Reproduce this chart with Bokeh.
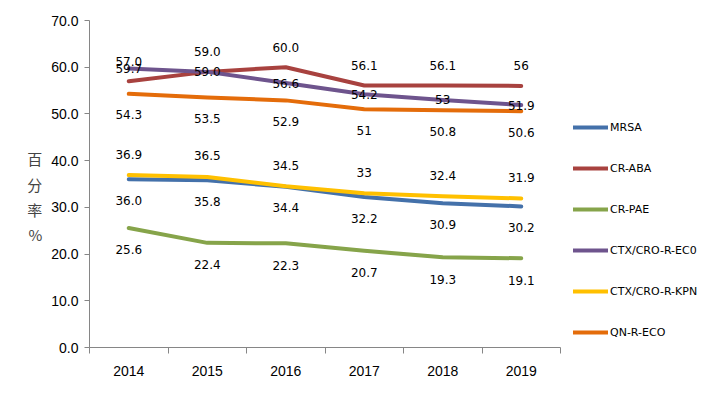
from bokeh.plotting import figure
from bokeh.models import (ColumnDataSource, Range1d, FixedTicker, Legend, LegendItem)
from bokeh.embed import file_html
from bokeh.resources import INLINE
from bokeh.core.properties import value

years = ["2014", "2015", "2016", "2017", "2018", "2019"]
series_names = ["MRSA", "CR-ABA", "CR-PAE", "CTX/CRO-R-EC0", "CTX/CRO-R-KPN", "QN-R-ECO"]
mrsa = [36.0, 35.8, 34.4, 32.2, 30.9, 30.2]
cr_aba = [57.0, 59.0, 60.0, 56.1, 56.1, 56.0]
cr_pae = [25.6, 22.4, 22.3, 20.7, 19.3, 19.1]
ctx_ec0 = [59.7, 59.0, 56.6, 54.2, 53.0, 51.9]
ctx_kpn = [36.9, 36.5, 34.5, 33.0, 32.4, 31.9]
qn_eco = [54.3, 53.5, 52.9, 51.0, 50.8, 50.6]
label_texts = {
    "MRSA": ["36.0", "35.8", "34.4", "32.2", "30.9", "30.2"],
    "CR-ABA": ["57.0", "59.0", "60.0", "56.1", "56.1", "56"],
    "CR-PAE": ["25.6", "22.4", "22.3", "20.7", "19.3", "19.1"],
    "CTX/CRO-R-EC0": ["59.7", "59.0", "56.6", "54.2", "53", "51.9"],
    "CTX/CRO-R-KPN": ["36.9", "36.5", "34.5", "33", "32.4", "31.9"],
    "QN-R-ECO": ["54.3", "53.5", "52.9", "51", "50.8", "50.6"],
}
y_ticks = [0, 10, 20, 30, 40, 50, 60, 70]

all_values = [mrsa, cr_aba, cr_pae, ctx_ec0, ctx_kpn, qn_eco]
colors = ["#4471AA", "#A8423F", "#86A44A", "#6E548D", "#FFC000", "#E46C0A"]
label_offsets = [-21, 20, -22, 0, 21, -21]  # pixels (positive = above)

xs = [i + 0.5 for i in range(len(years))]

p = figure(frame_width=471, frame_height=327, output_backend="svg", toolbar_location=None,
           x_range=Range1d(0, len(years)), y_range=Range1d(0, 70))
p.min_border_left = 89
p.min_border_right = 150
p.min_border_top = 20
p.min_border_bottom = 47
p.outline_line_color = None
p.background_fill_color = "white"
p.border_fill_color = "white"
p.xgrid.visible = False
p.ygrid.visible = False

# axes
p.xaxis.ticker = FixedTicker(ticks=xs, minor_ticks=list(range(len(years) + 1)))
p.xaxis.major_label_overrides = {x: y for x, y in zip(xs, years)}
p.xaxis.major_tick_out = 0
p.xaxis.major_tick_in = 0
p.xaxis.minor_tick_out = 6
p.xaxis.minor_tick_in = 0
p.xaxis.minor_tick_line_color = "#868686"
p.xaxis.axis_line_color = "#868686"
p.xaxis.major_label_text_font = "Liberation Sans"
p.xaxis.major_label_text_font_size = "14px"
p.xaxis.major_label_text_color = "#000000"
p.xaxis.major_label_standoff = 12

p.yaxis.ticker = FixedTicker(ticks=y_ticks)
p.yaxis.major_label_overrides = {t: f"{t:.1f}" for t in y_ticks}
p.yaxis.major_tick_out = 5
p.yaxis.major_tick_in = 0
p.yaxis.minor_tick_line_color = None
p.yaxis.major_tick_line_color = "#868686"
p.yaxis.axis_line_color = "#868686"
p.yaxis.major_label_text_font = "Liberation Sans"
p.yaxis.major_label_text_font_size = "14px"
p.yaxis.major_label_text_color = "#000000"
p.yaxis.major_label_standoff = 6
p.yaxis.axis_label = " \n百\n分\n率\n%"
p.yaxis.axis_label_orientation = "horizontal"
p.yaxis.axis_label_text_font = "Noto Sans CJK SC"
p.yaxis.axis_label_text_font_style = "normal"
p.yaxis.axis_label_text_font_size = "15px"
p.yaxis.axis_label_standoff = 6

items = []
for name, vals, col in zip(series_names, all_values, colors):
    src = ColumnDataSource(dict(x=xs, y=vals))
    r = p.line("x", "y", source=src, line_color=col, line_width=4,
               line_join="round", line_cap="round")
    items.append(LegendItem(label=name, renderers=[r]))

for name, vals, off in zip(series_names, all_values, label_offsets):
    src = ColumnDataSource(dict(x=xs, y=vals, t=label_texts[name]))
    p.text("x", "y", text="t", source=src, y_offset=-off,
           text_align="center", text_baseline="middle",
           text_font=value("DejaVu Sans"), text_font_size="12px",
           text_color="#000000")

legend = Legend(items=items, location="top_left", orientation="vertical",
                title=" ", title_text_font_size="11px", title_standoff=75,
                glyph_width=35, glyph_height=14, label_height=14, spacing=27,
                padding=0, margin=13,
                label_standoff=2, label_text_font="DejaVu Sans",
                label_text_font_size="11px", label_text_color="#000000",
                background_fill_alpha=0, border_line_color=None)
p.add_layout(legend, "right")

open("out.html", "w").write(file_html(p, INLINE))
